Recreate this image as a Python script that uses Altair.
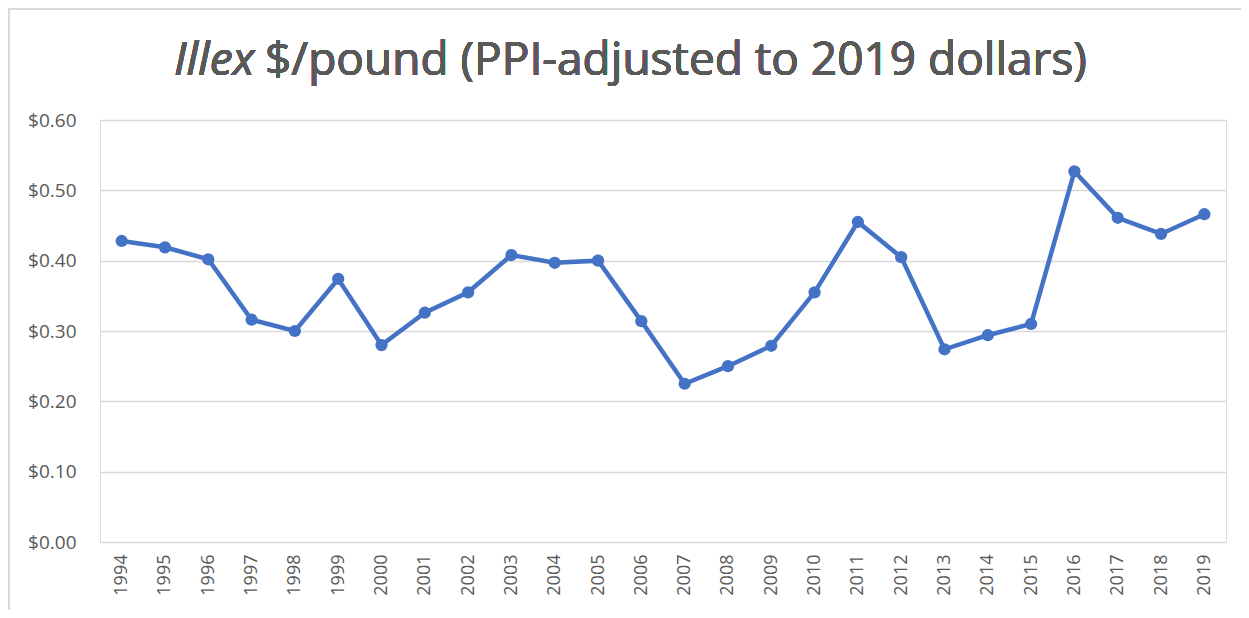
import altair as alt
import pandas as pd

years = [str(y) for y in range(1994, 2020)]
prices = [0.428, 0.419, 0.402, 0.316, 0.300, 0.374, 0.280, 0.326, 0.355, 0.408,
          0.397, 0.400, 0.314, 0.225, 0.250, 0.279, 0.355, 0.455, 0.405, 0.274,
          0.294, 0.310, 0.527, 0.461, 0.438, 0.466]
y_ticks = [0.0, 0.1, 0.2, 0.3, 0.4, 0.5, 0.6]

df = pd.DataFrame({"year": years, "price": prices})

FONT = "Open Sans"
GRAY = "#595959"
BLUE = "#4472C4"

x = alt.X("year:O", title=None, scale=alt.Scale(paddingInner=0, paddingOuter=0.5),
          axis=alt.Axis(labelAngle=-90, labelFontSize=18, labelColor=GRAY, labelFont=FONT,
                        ticks=False, domain=False, labelPadding=12, grid=False))
y = alt.Y("price:Q", title=None, scale=alt.Scale(domain=[0, 0.6], nice=False),
          axis=alt.Axis(values=y_ticks, format="$.2f", labelFontSize=19, labelColor=GRAY,
                        labelFont=FONT, ticks=False, domain=False, labelPadding=24,
                        gridColor="#d9d9d9", gridWidth=1.3))

line = alt.Chart(df).mark_line(color=BLUE, strokeWidth=4.5).encode(x=x, y=y)
pts = alt.Chart(df).mark_point(color=BLUE, filled=True, opacity=1, size=150).encode(x=x, y=y)

top_border = alt.Chart(df).mark_rule(color="#d9d9d9", strokeWidth=2).encode(
    x=alt.value(-92), x2=alt.value(1141), y=alt.value(-111))
left_border = alt.Chart(df).mark_rule(color="#d9d9d9", strokeWidth=2).encode(
    x=alt.value(-91), y=alt.value(-112), y2=alt.value(490))

t1 = alt.Chart(df).mark_text(text="Illex", fontStyle="italic", font=FONT, fontSize=46,
                             color=GRAY, align="left", baseline="alphabetic").encode(
    x=alt.value(74), y=alt.value(-45))
t2 = alt.Chart(df).mark_text(text="$/pound (PPI-adjusted to 2019 dollars)", font=FONT, fontSize=46,
                             color=GRAY, align="left", baseline="alphabetic").encode(
    x=alt.value(165), y=alt.value(-45))

chart = alt.layer(top_border, left_border, line, pts, t1, t2).properties(
    width=1126, height=422,
    autosize=alt.AutoSizeParams(type="none"),
    padding={"left": 92, "top": 112, "right": 15, "bottom": 68},
).configure_view(stroke=None).configure(background="white")

chart.save("out.html", embed_options={"renderer": "svg", "actions": False})
